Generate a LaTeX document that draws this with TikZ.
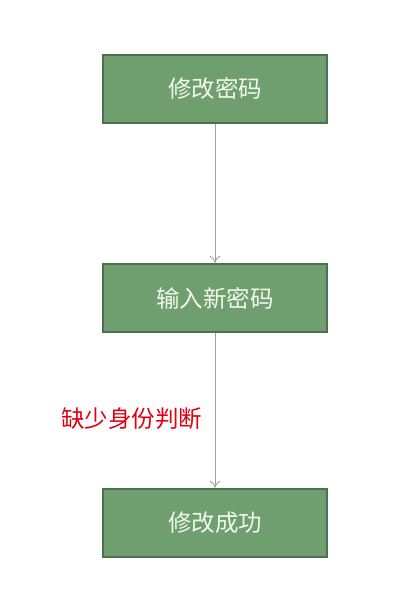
\documentclass[tikz,border=0pt]{standalone}
\usepackage{fontspec}
\setmainfont{Noto Sans CJK SC}
\usetikzlibrary{arrows.meta}
\definecolor{boxfill}{HTML}{6F9F6F}
\definecolor{boxline}{HTML}{4F6F4F}
\definecolor{boxtext}{HTML}{F2F8EC}
\definecolor{linkc}{HTML}{98A898}
\definecolor{redtext}{HTML}{E00010}
\tikzset{
  stepbox/.style={draw=boxline, line width=2.5pt, fill=boxfill, minimum width=224pt, minimum height=68pt, inner sep=0pt, text=boxtext, font=\fontsize{23.5pt}{28pt}\selectfont},
  link/.style={draw=linkc, line width=0.9pt, -{To[length=7pt,width=11pt]}},
}
\begin{document}
\begin{tikzpicture}[x=1pt,y=1pt]
\useasboundingbox (0,0) rectangle (404,-604);
\node[stepbox] (a) at (215,-89) {修改密码};
\node[stepbox] (b) at (215,-298) {输入新密码};
\node[stepbox] (c) at (215,-523) {修改成功};
\draw[link] (a.south) -- (b.north);
\draw[link] (b.south) -- (c.north);
\node[text=redtext, font=\fontsize{23.5pt}{28pt}\selectfont, anchor=center] (lbl) at (131.5,-419) {缺少身份判断};
\end{tikzpicture}
\end{document}
